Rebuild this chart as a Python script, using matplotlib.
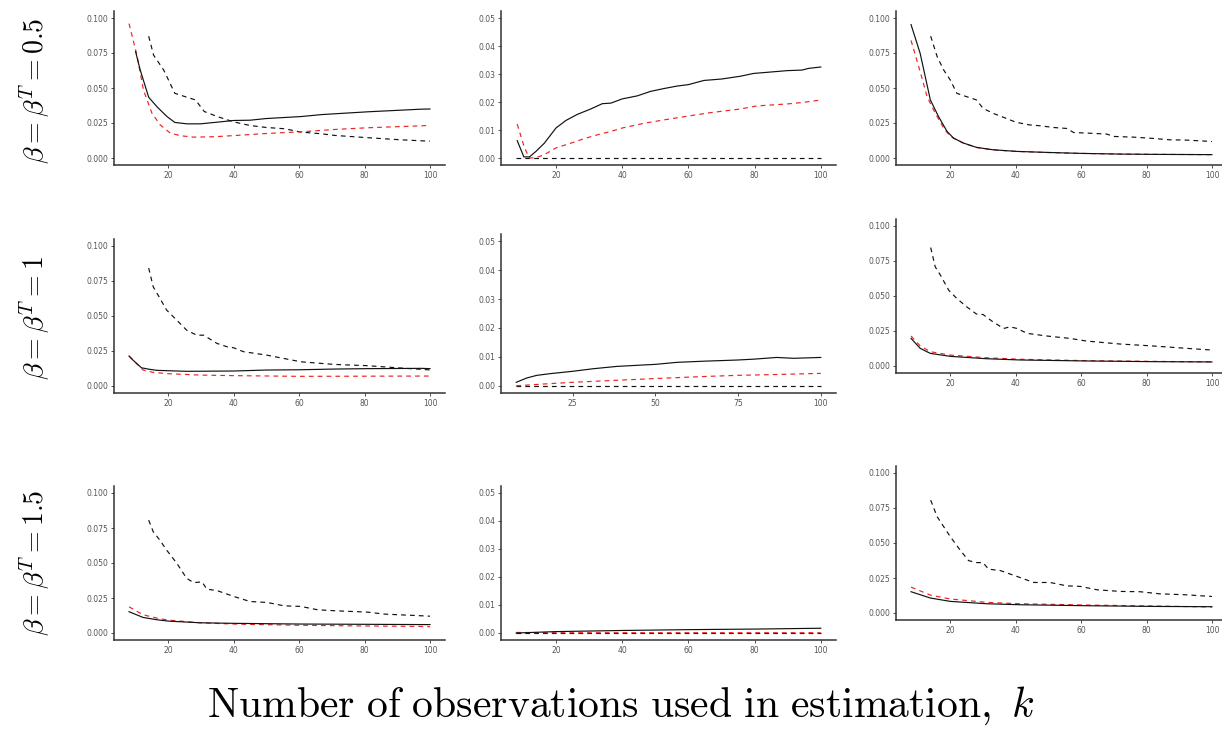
import matplotlib
matplotlib.use("Agg")
import matplotlib.pyplot as plt

plt.rcParams['mathtext.fontset'] = 'cm'

# values, (k, value) pairs
# row 1: beta = beta^T = 0.5
r1c1_solid = [(10, .076), (11.4, .063), (14, .0434), (16.5, .0367), (19.6, .0296), (22, .0254), (25.7, .0244),
              (29.8, .0244), (35, .0256), (40, .0268), (45, .027), (50, .0282), (60.6, .0296), (66.8, .031),
              (81, .033), (97.5, .0349), (100, .035)]
r1c1_red = [(8, .096), (10.4, .0735), (12.4, .0486), (15, .032), (17.5, .0237), (20.6, .0178), (23.7, .0159),
            (27.8, .0149), (34, .0152), (40, .016), (50, .0175), (60.6, .0187), (71, .0204), (81, .0216),
            (97.5, .023), (100, .0233)]
r1c1_dash = [(14, .087), (15.5, .0735), (18.6, .0628), (22, .0462), (25.7, .0434), (28.3, .0415), (31, .0332),
             (35, .0296), (40, .0258), (45, .0232), (50, .0218), (55.5, .0209), (60.6, .0185), (66.8, .0173),
             (71, .0161), (81, .0145), (91, .013), (100, .012)]

r1c2_solid = [(8.3, .0062), (10.3, .0004), (12, .0004), (14, .0024), (16.5, .0053), (20, .0107), (23, .0134),
              (26.5, .0156), (30.5, .0175), (34, .0194), (36.6, .0196), (40, .0211), (44.6, .0222), (48.6, .0238),
              (52.6, .0248), (56.6, .0257), (60, .0262), (64.7, .0277), (70, .0282), (75.7, .0292), (79.7, .0302),
              (84.8, .0307), (89.8, .0312), (94.3, .0314), (96.3, .032), (100, .0325)]
r1c2_red = [(8.3, .0121), (10.5, .0036), (12, 0), (14, .0001), (16.5, .0012), (20, .0036), (24.5, .0053),
            (28.5, .0069), (32.6, .0083), (36.6, .0095), (40, .0107), (46.6, .0124), (52.6, .0136), (60, .015),
            (66.7, .0162), (75.7, .0175), (80.7, .0186), (89.8, .0193), (94.3, .0198), (100, .0207)]
r1c2_dash = [(8, 0), (30, 0), (60, 0), (100, 0)]

r1c3_solid = [(8, .0953), (10.8, .0746), (13.9, .0415), (16.4, .0296), (19, .019), (21, .0142), (24, .0107),
              (28, .0076), (33, .0059), (40.4, .0047), (49.5, .004), (59.7, .0033), (71.9, .0028), (82, .0026),
              (100, .0024)]
r1c3_red = [(8, .084), (10.8, .0616), (12.9, .0438), (15.4, .032), (18, .0213), (20, .0154), (24, .0106),
            (28, .0075), (33, .0058), (40.4, .0047), (49.5, .0039), (59.7, .0033), (71.9, .0028), (82, .0026),
            (100, .0024)]
r1c3_dash = [(14, .087), (16, .0723), (18, .0628), (20, .0557), (22, .0462), (25, .0438), (28, .0415), (30, .0355),
             (33, .032), (37, .0284), (40, .0256), (44, .0237), (47.5, .023), (51.5, .0218), (55.6, .0211),
             (57.7, .0182), (61.7, .0178), (67.8, .0171), (70, .0154), (76, .0149), (82, .014), (87, .013),
             (92, .0128), (100, .0118)]

# row 2: beta = beta^T = 1
r2c1_solid = [(8, .0214), (9.2, .0185), (11.8, .013), (13.8, .0121), (16.4, .0112), (20, .0109), (25.6, .0105),
              (40, .0107), (50, .0114), (60, .0116), (70.8, .0121), (81, .0124), (97.4, .0126), (100, .0124)]
r2c1_red = [(8, .0214), (10.3, .016), (12.3, .0114), (15.4, .0097), (20, .0088), (29.7, .0078), (40, .0074),
            (60, .0069), (97.4, .0071), (100, .0071)]
r2c1_dash = [(14, .0843), (15.4, .0708), (16.9, .0648), (19.5, .0542), (22.6, .047), (25.6, .0399), (28.7, .0363),
             (30.8, .0363), (34.9, .0304), (38, .028), (40, .0273), (43, .0245), (50, .0221), (60.5, .0173),
             (70.8, .0154), (81, .0145), (91.3, .0128), (100, .0115)]

r2c2_solid = [(8, .0012), (11.2, .0027), (14.2, .0036), (18.3, .0042), (25, .005), (31.3, .0059), (38.4, .0067),
              (46.5, .0072), (50, .0074), (56.5, .0081), (64.6, .0085), (74.6, .0089), (79.7, .0092),
              (86.7, .0098), (91.8, .0095), (100, .0098)]
r2c2_red = [(8, 0), (16.2, .0006), (25, .0012), (36.4, .0018), (50, .0025), (64.6, .0032), (74.6, .0036),
            (86.7, .0039), (100, .0043)]
r2c2_dash = [(8, 0), (30, 0), (60, 0), (100, 0)]

r2c3_solid = [(8, .0197), (10.8, .0126), (13.9, .009), (20, .0069), (31, .0052), (41.4, .0043), (61.7, .0036),
              (82, .0031), (100, .0029)]
r2c3_red = [(8, .0214), (10.8, .0143), (13.9, .0102), (20, .0078), (31, .0059), (41.4, .0048), (61.7, .0038),
            (82, .0033), (100, .0029)]
r2c3_dash = [(14, .0846), (15.4, .0708), (17, .0648), (19.5, .0542), (22, .0482), (25, .0423), (28, .0371),
             (30, .0368), (33, .0316), (36.3, .0268), (38.3, .028), (40.4, .0268), (43.5, .0233), (49.6, .0214),
             (56.6, .0197), (61.7, .0178), (71.9, .0157), (82, .0143), (92.3, .0126), (100, .0114)]

# row 3: beta = beta^T = 1.5
r3c1_solid = [(8, .0152), (12.3, .0111), (16.4, .0095), (20, .0085), (29.7, .0073), (40, .0069), (60.5, .0064),
              (81, .0062), (100, .006)]
r3c1_red = [(8, .0187), (12.3, .013), (16.4, .0107), (20, .0092), (29.7, .0073), (40, .0064), (60.5, .0055),
            (81, .005), (97, .0047), (100, .0045)]
r3c1_dash = [(14, .0806), (15.4, .0723), (17.4, .0664), (19.5, .0592), (22.6, .0498), (25.6, .0391), (27.7, .036),
             (30.3, .0365), (31.8, .0313), (34.9, .0303), (40, .0261), (45, .0225), (50.3, .0218), (55.4, .0194),
             (60.5, .019), (65.6, .0166), (70.8, .0159), (81, .0149), (86, .0135), (97.4, .0123), (100, .012)]

r3c2_solid = [(8, 0), (20, .0005), (40, .0009), (60, .0012), (80, .0014), (100, .0017)]
r3c2_red = [(8, .0002), (20, .0001), (40, .0001), (60, .0001), (80, .0001), (100, .0001)]
r3c2_dash = [(8, 0), (30, 0), (60, 0), (100, 0)]

r3c3_solid = [(8, .0152), (13.9, .0107), (20, .0083), (31.2, .0066), (41.4, .0059), (61.7, .0052), (82, .0047),
              (100, .0045)]
r3c3_red = [(8, .0185), (13.9, .0128), (20, .01), (31.2, .0076), (41.4, .0066), (61.7, .0057), (82, .005),
            (100, .0043)]
r3c3_dash = [(14, .0806), (16, .0687), (18, .0616), (20, .0545), (23, .045), (25.6, .0374), (28, .036), (30, .036),
             (31.7, .0313), (35.3, .0303), (40.4, .0261), (45.5, .0218), (50.5, .0218), (55.6, .0194), (59.7, .019),
             (64.8, .0166), (72, .0154), (78, .0152), (84, .0137), (92.1, .013), (100, .0118)]

row_labels = [r'$\beta = \beta^T = 0.5$', r'$\beta = \beta^T = 1$', r'$\beta = \beta^T = 1.5$']
yticks_big = [0, 0.025, 0.05, 0.075, 0.1]
yticks_small = [0, 0.01, 0.02, 0.03, 0.04, 0.05]

W, H = 1222, 730
fig = plt.figure(figsize=(W / 100, H / 100), dpi=100)


def ax_at(l, t, r, b):
    return fig.add_axes([l / W, 1 - b / H, (r - l) / W, (b - t) / H])


def panel(box, solid, red, dash, small=False, xt=(20, 40, 60, 80, 100)):
    ax = ax_at(*box)
    for data, col, ls in [(dash, '#111111', (0, (4, 3.5))), (red, '#ee2222', (0, (4, 3.5))), (solid, '#111111', '-')]:
        ax.plot([p[0] for p in data], [p[1] for p in data], color=col, ls=ls, lw=0.85)
    ax.set_xlim(3.4, 104.6)
    if small:
        ax.set_ylim(-0.0025, 0.0525)
        ax.set_yticks(yticks_small)
        ax.set_yticklabels(['%.2f' % v for v in yticks_small])
    else:
        ax.set_ylim(-0.005, 0.105)
        ax.set_yticks(yticks_big)
        ax.set_yticklabels(['%.3f' % v for v in yticks_big])
    ax.set_xticks(list(xt))
    ax.set_xticklabels([str(v) for v in xt])
    for s in ['top', 'right']:
        ax.spines[s].set_visible(False)
    for s in ['left', 'bottom']:
        ax.spines[s].set_color('#333333')
        ax.spines[s].set_linewidth(1.1)
    ax.tick_params(length=2, width=0.6, color='#333333', labelsize=5.5, labelcolor='#555555', pad=2)
    return ax


panel((114, 11, 445, 165), r1c1_solid, r1c1_red, r1c1_dash)
panel((501, 11, 836, 165), r1c2_solid, r1c2_red, r1c2_dash, small=True)
panel((896, 11, 1227, 165), r1c3_solid, r1c3_red, r1c3_dash)
panel((114, 239, 445, 393), r2c1_solid, r2c1_red, r2c1_dash)
panel((501, 234, 836, 393), r2c2_solid, r2c2_red, r2c2_dash, small=True, xt=(25, 50, 75, 100))
panel((896, 219, 1227, 373), r2c3_solid, r2c3_red, r2c3_dash)
panel((114, 486, 445, 640), r3c1_solid, r3c1_red, r3c1_dash)
panel((501, 486, 836, 640), r3c2_solid, r3c2_red, r3c2_dash, small=True)
panel((896, 466, 1227, 620), r3c3_solid, r3c3_red, r3c3_dash)

for lab, yc in zip(row_labels, [91, 318, 563]):
    fig.text(35 / W, 1 - yc / H, lab, rotation=90, ha='center', va='center', fontsize=20)

fig.text(621 / W, 1 - 706 / H, r'$\mathrm{Number\ of\ observations\ used\ in\ estimation,}\ k$',
         ha='center', va='center', fontsize=30)

fig.savefig('out.png', dpi=100)
